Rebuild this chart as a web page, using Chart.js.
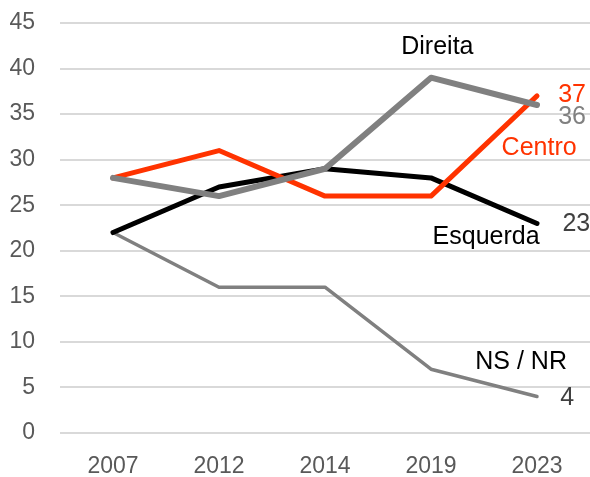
<!DOCTYPE html>
<html>
<head>
<meta charset="utf-8">
<script src="https://cdn.jsdelivr.net/npm/chart.js@4/dist/chart.umd.min.js"></script>
<style>
  html, body { margin: 0; padding: 0; background: #fff; }
  #wrap { width: 590px; height: 477px; }
</style>
</head>
<body>
<div id="wrap"><canvas id="grafico"></canvas></div>
<script>
// anos e valores
const anos = ['2007', '2012', '2014', '2019', '2023'];
const esquerda = [22, 27, 29, 28, 23];
const centro = [28, 31, 26, 26, 37];
const direita = [28, 26, 29, 39, 36];
const nsnr = [22, 16, 16, 7, 4];
const yTicks = [0, 5, 10, 15, 20, 25, 30, 35, 40, 45];

const vermelho = '#FF3300';
const cinza = '#808080';
const fonte = '"Liberation Sans", Arial, sans-serif';

// rotulos de texto: [texto, indice x, valor y, cor, alinhamento]
const rotulos = [
  ['Direita', 3.06, 42.4, '#000000', 'center'],
  ['37', 4.2, 37.1, vermelho, 'left'],
  ['36', 4.2, 34.7, cinza, 'left'],
  ['Centro', 4.02, 31.3, vermelho, 'center'],
  ['23', 4.24, 22.9, '#404040', 'left'],
  ['Esquerda', 3.52, 21.5, '#000000', 'center'],
  ['NS / NR', 3.85, 7.8, '#000000', 'center'],
  ['4', 4.22, 3.8, '#404040', 'left']
];

// plugin simples para desenhar os rotulos nas posicoes das escalas
const pluginRotulos = {
  id: 'rotulos',
  afterDatasetsDraw(chart) {
    const ctx = chart.ctx;
    const x = chart.scales.x, y = chart.scales.y;
    const passo = x.getPixelForValue(1) - x.getPixelForValue(0);
    ctx.save();
    ctx.font = '25px ' + fonte;
    ctx.textBaseline = 'middle';
    rotulos.forEach(function(r) {
      ctx.fillStyle = r[3];
      ctx.textAlign = r[4];
      const px = x.getPixelForValue(0) + r[1] * passo;
      ctx.fillText(r[0], px, y.getPixelForValue(r[2]));
    });
    ctx.restore();
  }
};

function serie(label, dados, cor, largura) {
  return {
    label: label,
    data: dados,
    borderColor: cor,
    backgroundColor: cor,
    borderWidth: largura,
    pointRadius: 0,
    pointHoverRadius: 0,
    tension: 0,
    fill: false,
    borderCapStyle: 'round',
    borderJoinStyle: 'round'
  };
}

const config = {
  type: 'line',
  data: {
    labels: anos,
    datasets: [
      // a ordem define quem fica por cima (primeiro = por cima)
      serie('Direita', direita, cinza, 6),
      serie('Centro', centro, vermelho, 5),
      serie('Esquerda', esquerda, '#000000', 5),
      serie('NS / NR', nsnr, cinza, 3.5)
    ]
  },
  options: {
    responsive: true,
    maintainAspectRatio: false,
    animation: false,
    layout: { padding: { top: 23, right: 0, left: 0, bottom: 0 } },
    plugins: {
      legend: { display: false },
      tooltip: { enabled: false }
    },
    scales: {
      x: {
        offset: true,
        grid: { display: false, drawTicks: false },
        border: { display: false },
        ticks: {
          color: '#595959',
          font: { family: fonte, size: 23 },
          padding: 20,
          maxRotation: 0
        },
        afterFit: function(scale) { scale.height = 44; }
      },
      y: {
        min: 0,
        max: 45,
        afterBuildTicks: function(scale) {
          scale.ticks = yTicks.map(function(v) { return { value: v }; });
        },
        grid: { color: '#D9D9D9', lineWidth: 2, drawTicks: false },
        border: { display: false },
        ticks: {
          color: '#595959',
          font: { family: fonte, size: 23 },
          padding: 25
        },
        afterFit: function(scale) {
          scale.width = 60;
          // sem folga extra em cima e em baixo
          scale.paddingTop = 0;
          scale.paddingBottom = 0;
        }
      }
    }
  },
  plugins: [pluginRotulos]
};

var grafico = new Chart(document.getElementById('grafico'), config);
</script>
</body>
</html>
